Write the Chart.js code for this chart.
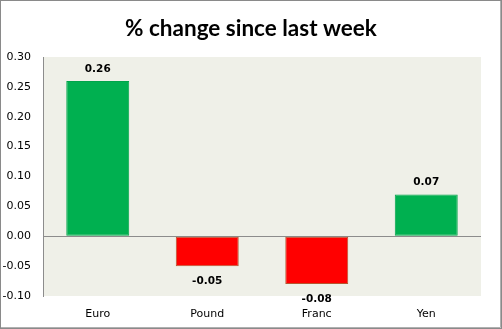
<!DOCTYPE html>
<html><head><meta charset="utf-8">
<script src="https://cdn.jsdelivr.net/npm/chart.js@4"></script>
<style>html,body{margin:0;padding:0;background:#fff}#wrap{position:relative;width:502px;height:329px}</style>
</head><body><div id="wrap"><canvas id="c" width="502" height="329"></canvas></div>
<script>
const categories = ["Euro", "Pound", "Franc", "Yen"];
const changes = [0.26, -0.05, -0.08, 0.07];
const yTicks = [-0.10, -0.05, 0.00, 0.05, 0.10, 0.15, 0.20, 0.25, 0.30];

const bgPlugin = {
  id: 'bg',
  beforeDraw(chart) {
    const {ctx, chartArea: a, width, height} = chart;
    ctx.save();
    ctx.fillStyle = '#fff';
    ctx.fillRect(0, 0, width, height);
    ctx.fillStyle = '#EFF0E8';
    ctx.fillRect(a.left, a.top, a.right - a.left, a.bottom - a.top);
    ctx.restore();
  },
  afterDraw(chart) {
    const {ctx, width, height} = chart;
    ctx.save();
    ctx.strokeStyle = '#8a8a8a';
    ctx.lineWidth = 1;
    ctx.strokeRect(0.5, 0.5, width - 1, height - 1);
    ctx.strokeStyle = '#b0b0b0';
    ctx.beginPath();
    ctx.moveTo(width - 1.5, 1); ctx.lineTo(width - 1.5, height - 1.5); ctx.lineTo(1, height - 1.5);
    ctx.stroke();
    ctx.restore();
  }
};

const labelPlugin = {
  id: 'vals',
  afterDatasetsDraw(chart) {
    const {ctx} = chart;
    const meta = chart.getDatasetMeta(0);
    ctx.save();
    ctx.font = 'bold 10.5px "DejaVu Sans"';
    ctx.fillStyle = '#000';
    ctx.textAlign = 'center';
    ctx.textBaseline = 'middle';
    meta.data.forEach((bar, i) => {
      const v = changes[i];
      const y = v >= 0 ? bar.y - 12 : bar.y + 15;
      ctx.fillText(v.toFixed(2), bar.x, y);
    });
    ctx.restore();
  }
};

new Chart(document.getElementById('c'), {
  type: 'bar',
  data: {
    labels: categories,
    datasets: [{
      data: changes,
      backgroundColor: changes.map(v => v >= 0 ? '#00B050' : '#FF0000'),
      borderColor: changes.map(v => v >= 0 ? '#00A44A' : '#B5562F'),
      borderWidth: 1,
      borderSkipped: false,
      categoryPercentage: 1,
      barPercentage: 0.575
    }]
  },
  options: {
    responsive: false,
    animation: false,
    devicePixelRatio: 1,
    layout: { padding: 0 },
    plugins: {
      legend: { display: false },
      tooltip: { enabled: false },
      title: {
        display: true,
        text: '% change since last week',
        color: '#000',
        font: { family: 'Lato', size: 22.5, weight: 'bold' },
        padding: { top: 15, bottom: 15 }
      }
    },
    scales: {
      x: {
        grid: { display: false },
        border: { display: false },
        ticks: { color: '#000', font: { family: 'DejaVu Sans', size: 11 }, padding: 4 },
        afterFit(s) { s.height = 33; }
      },
      y: {
        min: -0.10, max: 0.30,
        afterBuildTicks(s) { s.ticks = yTicks.map(v => ({value: v})); },
        grid: {
          drawTicks: false,
          color: ctx => (ctx.tick && ctx.tick.value === 0) ? '#8c8c8c' : 'rgba(0,0,0,0)',
          lineWidth: 1
        },
        border: { display: true, color: '#8c8c8c' },
        ticks: {
          color: '#000',
          font: { family: 'DejaVu Sans', size: 11 },
          padding: 12,
          callback: v => v.toFixed(2)
        },
        afterFit(s) { s.width = 43; }
      },
      yRight: {
        position: 'right',
        min: -0.10, max: 0.30,
        grid: { display: false, drawTicks: false },
        border: { display: false },
        ticks: { display: false },
        afterFit(s) { s.width = 21; }
      }
    }
  },
  plugins: [bgPlugin, labelPlugin]
});
</script></body></html>
